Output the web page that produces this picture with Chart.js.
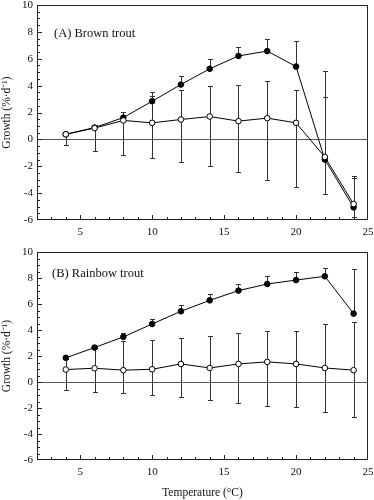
<!DOCTYPE html>
<html>
<head>
<meta charset="utf-8">
<script src="https://cdn.jsdelivr.net/npm/chart.js@4.4.1/dist/chart.umd.min.js"></script>
<style>
  body { margin: 0; background: #fff; }
  #wrap { position: relative; width: 374px; height: 500px; }
  canvas { position: absolute; left: 0; }
</style>
</head>
<body>
<div id="wrap">
  <canvas id="grafA" width="374" height="240" style="top:0"></canvas>
  <canvas id="grafB" width="374" height="260" style="top:240px"></canvas>
</div>
<script>
const temps = [4, 6, 8, 10, 12, 14, 16, 18, 20, 22, 24]
const xTicks = [5, 10, 15, 20, 25]
const yTicks = [-6, -4, -2, 0, 2, 4, 6, 8, 10]

// (A) brown trout - filled = high ration, open = low ration
const brownFed = [0.38, 0.88, 1.62, 2.84, 4.08, 5.25, 6.21, 6.57, 5.42, -1.50, -5.06]
const brownFedHi = [null, 1.04, 2.07, 3.51, 4.72, 5.95, 6.91, 7.48, 7.33, 3.13, -2.74]
const brownLow = [0.38, 0.84, 1.41, 1.23, 1.48, 1.70, 1.36, 1.58, 1.23, -1.31, -4.81]
const brownLowHi = [null, null, null, 3.23, 3.68, 3.97, 4.07, 4.37, 3.68, 5.06, -2.86]
const brownLowLo = [-0.44, -0.86, -1.19, -1.38, -1.70, -2.00, -2.44, -3.04, -3.53, -4.10, -5.75]

// (B) rainbow trout
const rainbowFed = [1.86, 2.65, 3.47, 4.46, 5.44, 6.28, 7.03, 7.54, 7.84, 8.13, 5.26]
const rainbowFedHi = [null, null, 3.80, 4.82, 5.90, 6.77, 7.56, 8.18, 8.49, 8.79, 8.69]
const rainbowLow = [0.96, 1.06, 0.91, 0.98, 1.39, 1.08, 1.39, 1.55, 1.39, 1.08, 0.91]
const rainbowLowHi = [1.80, 2.60, 3.13, 3.26, 3.42, 3.57, 3.80, 3.95, 3.95, 4.49, 4.59]
const rainbowLowLo = [-0.63, -0.76, -0.88, -1.02, -1.17, -1.35, -1.58, -1.83, -1.96, -2.32, -2.73]

const fonte = 'Liberation Serif'

// moldura, linha do zero, marcas para dentro, barras de erro
const moldura = {
  id: 'moldura',
  beforeDatasetsDraw(chart) {
    const { ctx, chartArea: a, scales: { x, y } } = chart
    ctx.save()
    ctx.strokeStyle = '#222'
    ctx.lineWidth = 1
    ctx.strokeRect(a.left + 0.5, a.top + 0.5, a.right - a.left - 1, a.bottom - a.top - 1)

    const y0 = Math.round(y.getPixelForValue(0)) + 0.5
    ctx.strokeStyle = '#555'
    ctx.beginPath()
    ctx.moveTo(a.left, y0)
    ctx.lineTo(a.right, y0)
    ctx.stroke()

    ctx.strokeStyle = '#222'
    ctx.beginPath()
    for (let v = 3; v < 25; v++) {
      const px = Math.round(x.getPixelForValue(v)) + 0.5
      const len = v % 5 === 0 ? 5 : 3
      ctx.moveTo(px, a.bottom)
      ctx.lineTo(px, a.bottom - len)
    }
    for (let v = -5.5; v < 10; v += 0.5) {
      const py = Math.round(y.getPixelForValue(v)) + 0.5
      const len = v % 2 === 0 ? 5 : 3
      ctx.moveTo(a.left, py)
      ctx.lineTo(a.left + len, py)
    }
    ctx.stroke()

    // barras de erro
    ctx.strokeStyle = '#333'
    chart.data.datasets.forEach(ds => {
      ds.data.forEach((p, i) => {
        const px = Math.round(x.getPixelForValue(p.x)) + 0.5
        const py = y.getPixelForValue(p.y)
        const pontas = []
        if (ds.errHi && ds.errHi[i] !== null) pontas.push(ds.errHi[i])
        if (ds.errLo && ds.errLo[i] !== null) pontas.push(ds.errLo[i])
        pontas.forEach(v => {
          const pe = Math.round(y.getPixelForValue(v)) + 0.5
          ctx.beginPath()
          ctx.moveTo(px, py)
          ctx.lineTo(px, pe)
          ctx.moveTo(px - 2.5, pe)
          ctx.lineTo(px + 2.5, pe)
          ctx.stroke()
        })
      })
    })
    ctx.restore()
  },
  afterDraw(chart) {
    const { ctx, chartArea: a, scales: { y } } = chart
    const rot = chart.options.plugins.moldura.rotulo
    ctx.save()
    ctx.fillStyle = '#111'
    ctx.font = '12.5px "' + fonte + '"'
    ctx.textBaseline = 'middle'
    ctx.fillText(rot.texto, a.left + rot.dx, y.getPixelForValue(rot.y))
    ctx.restore()
  }
}

const pontos = vals => temps.map((t, i) => ({ x: t, y: vals[i] }))

function montaGrafico(id, fed, fedHi, low, lowHi, lowLo, rotulo, padTop, xHeight, comTitulo) {
  return new Chart(document.getElementById(id), {
    type: 'line',
    data: {
      datasets: [{
        data: pontos(low),
        errHi: lowHi,
        errLo: lowLo,
        borderColor: '#000',
        borderWidth: 1,
        pointRadius: 2.8,
        pointBorderWidth: 1,
        pointBackgroundColor: '#fff',
        pointBorderColor: '#000',
        order: 0
      }, {
        data: pontos(fed),
        errHi: fedHi,
        errLo: null,
        borderColor: '#000',
        borderWidth: 1,
        pointRadius: 2.8,
        pointBorderWidth: 1,
        pointBackgroundColor: '#000',
        pointBorderColor: '#000',
        order: 1
      }]
    },
    options: {
      responsive: false,
      animation: false,
      layout: { padding: { top: padTop, right: 6, left: 0, bottom: 0 } },
      plugins: {
        legend: { display: false },
        tooltip: { enabled: false },
        moldura: { rotulo: rotulo }
      },
      scales: {
        x: {
          type: 'linear',
          min: 2,
          max: 25,
          afterBuildTicks: axis => { axis.ticks = xTicks.map(v => ({ value: v })) },
          afterFit: axis => {
            axis.height = xHeight
            axis.paddingLeft = 0
            axis.paddingRight = 0
          },
          grid: { display: false, drawTicks: false },
          border: { display: false },
          ticks: { color: '#111', padding: 6, font: { family: fonte, size: 11 } },
          title: {
            display: comTitulo,
            text: 'Temperature (\u00B0C)',
            color: '#111',
            padding: 0,
            font: { family: fonte, size: 11.5 }
          }
        },
        y: {
          min: -6,
          max: 10,
          afterBuildTicks: axis => { axis.ticks = yTicks.map(v => ({ value: v })) },
          afterFit: axis => {
            axis.width = 37
            axis.paddingTop = 0
            axis.paddingBottom = 0
          },
          grid: { display: false, drawTicks: false },
          border: { display: false },
          ticks: { color: '#111', padding: 4, font: { family: fonte, size: 11 } },
          title: {
            display: true,
            text: 'Growth (%\u00B7d\u207B\u00B9)',
            color: '#111',
            padding: 0,
            font: { family: fonte, size: 11.5 }
          }
        }
      }
    },
    plugins: [moldura]
  })
}

montaGrafico('grafA', brownFed, brownFedHi, brownLow, brownLowHi, brownLowLo,
  { texto: '(A) Brown trout', dx: 17, y: 7.85 }, 4, 20, false)
montaGrafico('grafB', rainbowFed, rainbowFedHi, rainbowLow, rainbowLowHi, rainbowLowLo,
  { texto: '(B) Rainbow trout', dx: 15, y: 8.3 }, 12, 40, true)
</script>
</body>
</html>
